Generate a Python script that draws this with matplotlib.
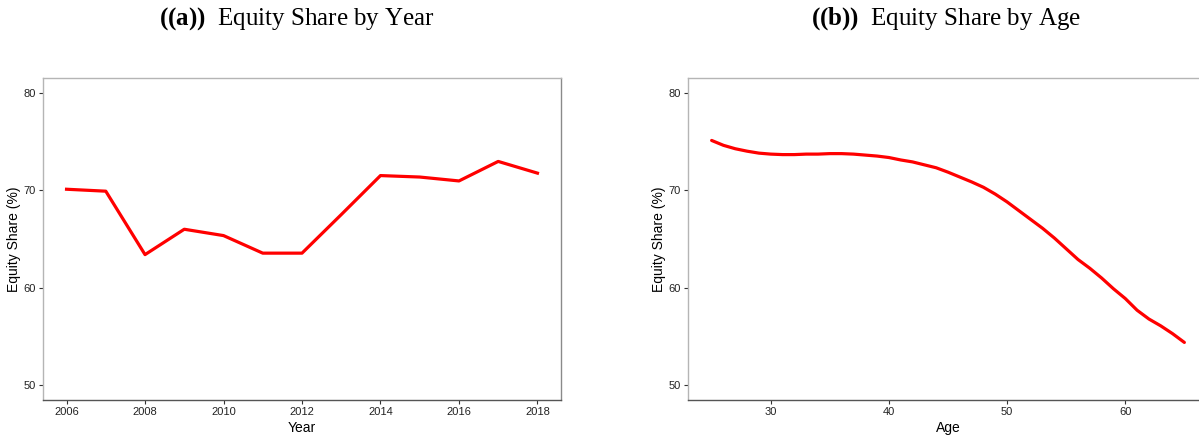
import matplotlib
matplotlib.use("Agg")
import matplotlib.pyplot as plt

plt.rcParams["mathtext.fontset"] = "custom"
plt.rcParams["mathtext.rm"] = "Liberation Serif"
plt.rcParams["mathtext.bf"] = "Liberation Serif:bold"

# panel (a): equity share by year
years = [2006, 2007, 2008, 2009, 2010, 2011, 2012, 2013, 2014, 2015, 2016, 2017, 2018]
share_by_year = [70.1, 69.9, 63.4, 66.0, 65.35, 63.55, 63.55, 67.5, 71.5, 71.35, 70.95, 72.95, 71.75]

# panel (b): equity share by age (smoothed)
ages = list(range(25, 66))
share_by_age = [75.1, 74.6, 74.25, 74.0, 73.8, 73.7, 73.65, 73.65, 73.7, 73.7,
                73.75, 73.75, 73.7, 73.6, 73.5, 73.35, 73.1, 72.9, 72.6, 72.3,
                71.85, 71.35, 70.85, 70.3, 69.6, 68.8, 67.9, 67.0, 66.1, 65.1,
                64.0, 62.9, 62.0, 61.0, 59.9, 58.9, 57.7, 56.8, 56.1, 55.3, 54.4]

year_ticks = [2006, 2008, 2010, 2012, 2014, 2016, 2018]
age_ticks = [30, 40, 50, 60]
y_ticks = [50, 60, 70, 80]

W, H = 1199, 436
fig = plt.figure(figsize=(W / 100, H / 100), dpi=100)

def px_axes(l, r, t, b):
    return fig.add_axes([l / W, 1 - b / H, (r - l) / W, (b - t) / H])

ax1 = px_axes(43, 561, 78, 400)
ax2 = px_axes(688, 1208, 78, 400)


def style(ax, xlabel):
    ax.set_ylim(48.5, 81.5)
    ax.set_yticks(y_ticks)
    ax.set_ylabel("Equity Share (%)", fontsize=10, family="Liberation Sans", labelpad=2)
    ax.set_xlabel(xlabel, fontsize=10, family="Liberation Sans", labelpad=3)
    ax.tick_params(direction="out", length=3, width=0.8, color="#333333",
                   labelsize=8, pad=2)
    for lab in ax.get_xticklabels() + ax.get_yticklabels():
        lab.set_family("Liberation Sans")
        lab.set_color("#222222")
    ax.spines["left"].set_color("#b5b5b5")
    ax.spines["top"].set_color("#b5b5b5")
    ax.spines["right"].set_color("#8a8a8a")
    ax.spines["bottom"].set_color("#555555")
    for s in ax.spines.values():
        s.set_linewidth(1.0)


ax1.plot(years, share_by_year, color="red", lw=2.3, solid_joinstyle="round")
ax1.set_xlim(2005.4, 2018.6)
ax1.set_xticks(year_ticks)
style(ax1, "Year")

ax2.plot(ages, share_by_age, color="red", lw=2.3, solid_capstyle="round")
ax2.set_xlim(23, 67)
ax2.set_xticks(age_ticks)
style(ax2, "Age")

fig.text(297 / W, 1 - 19 / H, r"$\mathbf{((a))}$  Equity Share by Year", ha="center", va="center",
         fontsize=18, family="Liberation Serif")
fig.text(946 / W, 1 - 19 / H, r"$\mathbf{((b))}$  Equity Share by Age", ha="center", va="center",
         fontsize=18, family="Liberation Serif")

fig.savefig("out.png", dpi=100)
